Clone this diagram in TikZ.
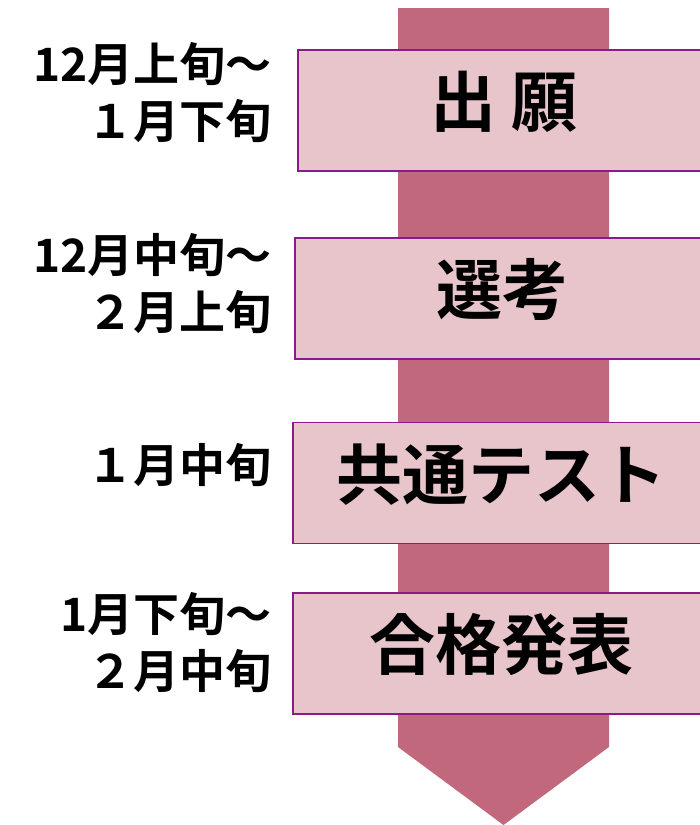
\documentclass[tikz,border=0pt]{standalone}
\usepackage{fontspec}
\setmainfont{Noto Sans CJK JP}[BoldFont={* Bold}]
\definecolor{shaftcol}{HTML}{C1687D}
\definecolor{boxfill}{HTML}{E8C5CB}
\definecolor{boxline}{HTML}{8B1A8B}
\begin{document}
\begin{tikzpicture}[x=1pt, y=-1pt,
    stage/.style={draw=boxline, line width=1.5pt, fill=boxfill, anchor=west,
                  minimum height=121pt, inner sep=0pt,
                  text height=48pt, text depth=16pt,
                  font=\fontsize{66}{72}\selectfont\bfseries},
    period/.style={anchor=east, align=right, inner sep=0pt,
                   font=\fontsize{46}{57}\selectfont\bfseries},
  ]
    \useasboundingbox (0,0) rectangle (700,825);
    % big arrow behind the boxes
    \fill[shaftcol] (398,8) -- (609,8) -- (609,747) -- (503.5,825) -- (398,747) -- cycle;
    % stages
    \node[stage, minimum width=413pt] (apply) at (297,110.5) {出\ 願};
    \node[stage, minimum width=416pt] (select) at (294,298.5) {選考};
    \node[stage, minimum width=418pt] (common) at (292,483) {共通テスト};
    \node[stage, minimum width=418pt] (result) at (292,653.5) {合格発表};
    % dates
    \node[period] (applyT) at (272,93) {12月上旬～\\１月下旬};
    \node[period] (selectT) at (272,283.5) {12月中旬～\\２月上旬};
    \node[period] (commonT) at (272,465) {１月中旬};
    \node[period] (resultT) at (272,642.5) {1月下旬～\\２月中旬};
\end{tikzpicture}
\end{document}
